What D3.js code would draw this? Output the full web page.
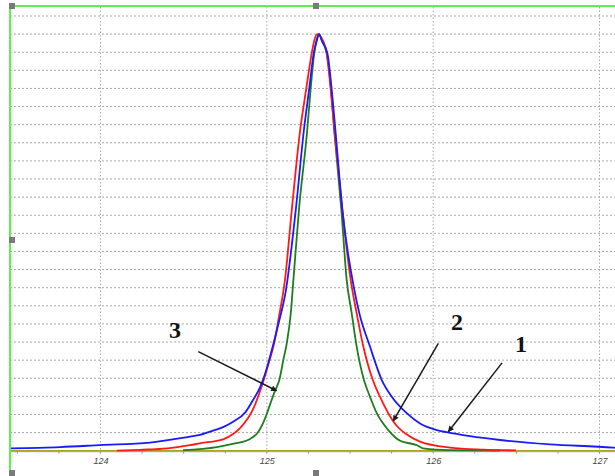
<!DOCTYPE html>
<html><head><meta charset="utf-8">
<script src="https://cdn.jsdelivr.net/npm/d3@7/dist/d3.min.js"></script>
<style>html,body{margin:0;padding:0;background:#fff;overflow:hidden}</style>
</head><body><svg id="c" width="615" height="476"></svg>
<script>
// x positions (data units), y intensities (grid units)
const curve1X = [123.456,123.757,123.997,124.298,124.538,124.598,124.658,124.737,124.797,124.869,124.917,124.959,124.995,125.031,125.067,125.115,125.174,125.223,125.254,125.282,125.299,125.314,125.332,125.364,125.390,125.413,125.454,125.526,125.556,125.620,125.691,125.751,125.841,125.921,126.021,126.081,126.222,126.402,126.702,127.081,127.093];
const curve1Y = [0.13,0.2,0.31,0.45,0.78,0.87,1.05,1.3,1.6,2.1,2.8,3.5,4.4,5.6,6.9,8.88,13.3,17.72,19.93,21.95,22.6,23.0,22.6,21.95,19.93,17.6,13.3,8.88,7.59,5.75,3.9,2.98,2.07,1.5,1.14,1.02,0.8,0.59,0.35,0.17,0.16];
const curve2X = [124.099,124.237,124.400,124.538,124.598,124.737,124.797,124.839,124.887,124.923,124.947,124.971,125.007,125.043,125.073,125.109,125.150,125.199,125.236,125.270,125.287,125.302,125.320,125.360,125.384,125.407,125.454,125.504,125.540,125.580,125.637,125.680,125.730,125.783,125.831,125.921,126.101,126.300,126.498];
const curve2Y = [0.0,0.05,0.13,0.31,0.41,0.63,0.92,1.25,1.8,2.4,2.98,3.6,4.7,5.9,7.4,9.43,13.3,17.6,19.93,21.95,22.7,23.0,22.9,21.95,19.93,17.6,13.3,9.43,7.59,5.75,3.9,2.98,2.07,1.35,0.96,0.5,0.17,0.06,0.02];
const curve3X = [124.496,124.700,124.809,124.899,124.941,124.971,125.001,125.025,125.049,125.075,125.099,125.121,125.144,125.157,125.193,125.243,125.263,125.285,125.300,125.314,125.329,125.359,125.386,125.406,125.448,125.480,125.510,125.540,125.584,125.620,125.661,125.730,125.801,125.903,125.939,126.101,126.402];
const curve3Y = [0.03,0.2,0.4,0.65,0.95,1.4,2.07,2.7,3.3,3.9,5.0,6.0,7.59,9.1,13.3,17.72,19.93,21.95,22.7,23.0,22.7,21.95,19.93,17.6,13.3,9.43,7.59,5.75,3.9,2.98,2.07,1.14,0.55,0.3,0.13,0.03,0.01];
const xTicks = [124,125,126,127];
const xTickLabels = ["124","125","126","127"];
const yGrid = d3.range(1,25);
const labelNames = ["1","2","3"];
const labelX = [126.528,126.143,124.448];
const labelY = [5.9,7.11,6.67];
const arrowFromX = [126.414,126.031,124.588];
const arrowFromY = [4.85,5.93,5.47];
const arrowToX = [126.091,125.760,125.059];
const arrowToY = [1.05,1.64,3.31];

const svg = d3.select("#c");
const x = d3.scaleLinear().domain([123.456,127.093]).range([10,615]);
const y = d3.scaleLinear().domain([0,24]).range([450.7,16]);

svg.append("defs").append("marker").attr("id","ah").attr("viewBox","0 0 10 10")
  .attr("refX",9).attr("refY",5).attr("markerWidth",8).attr("markerHeight",6)
  .attr("markerUnits","userSpaceOnUse").attr("orient","auto")
  .append("path").attr("d","M0,0 L10,5 L0,10 z").attr("fill","#1a1a1a");

// grid
svg.append("g").selectAll("line").data(yGrid).join("line")
  .attr("x1",10).attr("x2",615).attr("y1",d=>y(d)).attr("y2",d=>y(d))
  .attr("stroke","#a8a8a8").attr("stroke-width",1).attr("stroke-dasharray","2,2");
svg.append("g").selectAll("line").data(xTicks).join("line")
  .attr("x1",d=>x(d)).attr("x2",d=>x(d)).attr("y1",7).attr("y2",y(0))
  .attr("stroke","#a8a8a8").attr("stroke-width",1).attr("stroke-dasharray","1.5,2");

// baseline
svg.append("line").attr("x1",10).attr("x2",615).attr("y1",y(0)+1).attr("y2",y(0)+1)
  .attr("stroke","#a0a0a0").attr("stroke-width",1);
// minor ticks
const minor = d3.range(123.5,127.1,0.25);
svg.append("g").selectAll("line").data(minor).join("line")
  .attr("x1",d=>x(d)).attr("x2",d=>x(d)).attr("y1",y(0)).attr("y2",y(0)+3)
  .attr("stroke","#999").attr("stroke-width",1);

// axis labels
const ax = d3.axisBottom(x).tickValues(xTicks).tickFormat((d,i)=>xTickLabels[i]).tickSize(0).tickPadding(7);
const axg = svg.append("g").attr("transform",`translate(0,${y(0)})`).call(ax);
axg.select(".domain").remove();
axg.selectAll("text").attr("font-family","Liberation Sans, Arial, sans-serif")
  .attr("font-style","italic").attr("font-size",9).attr("fill","#444");

// zero trace
svg.append("line").attr("x1",10).attr("x2",615).attr("y1",y(0)).attr("y2",y(0))
  .attr("stroke","#b0a21a").attr("stroke-width",1.6);

const line = d3.line().x(d=>x(d[0])).y(d=>y(d[1])).curve(d3.curveMonotoneX);
const series = [
  {xs:curve3X, ys:curve3Y, c:"#1e7d1e"},
  {xs:curve2X, ys:curve2Y, c:"#ff1a1a"},
  {xs:curve1X, ys:curve1Y, c:"#1a1aff"}
];
series.forEach(s=>{
  svg.append("path").datum(s.xs.map((v,i)=>[v,s.ys[i]]))
    .attr("d",line).attr("fill","none").attr("stroke",s.c).attr("stroke-width",1.8);
});

// arrows and labels
labelNames.forEach((n,i)=>{
  svg.append("line").attr("x1",x(arrowFromX[i])).attr("y1",y(arrowFromY[i]))
    .attr("x2",x(arrowToX[i])).attr("y2",y(arrowToY[i]))
    .attr("stroke","#1a1a1a").attr("stroke-width",1.5).attr("marker-end","url(#ah)");
  svg.append("text").attr("x",x(labelX[i])).attr("y",y(labelY[i]))
    .attr("text-anchor","middle").attr("dominant-baseline","central")
    .attr("font-family","Liberation Serif, Times New Roman, serif").attr("font-weight","bold")
    .attr("font-size",24).attr("fill","#111").text(n);
});

// frame
svg.append("line").attr("x1",10).attr("x2",615).attr("y1",6).attr("y2",6).attr("stroke","#5ef04a").attr("stroke-width",2);
svg.append("line").attr("x1",10).attr("x2",10).attr("y1",5).attr("y2",476).attr("stroke","#5ef04a").attr("stroke-width",2);
// handles
[[9,3],[313,3],[9,237],[9,470],[313,470]].forEach(p=>{
  svg.append("rect").attr("x",p[0]).attr("y",p[1]).attr("width",6).attr("height",6).attr("fill","#7a7a7a");
});
</script></body></html>
